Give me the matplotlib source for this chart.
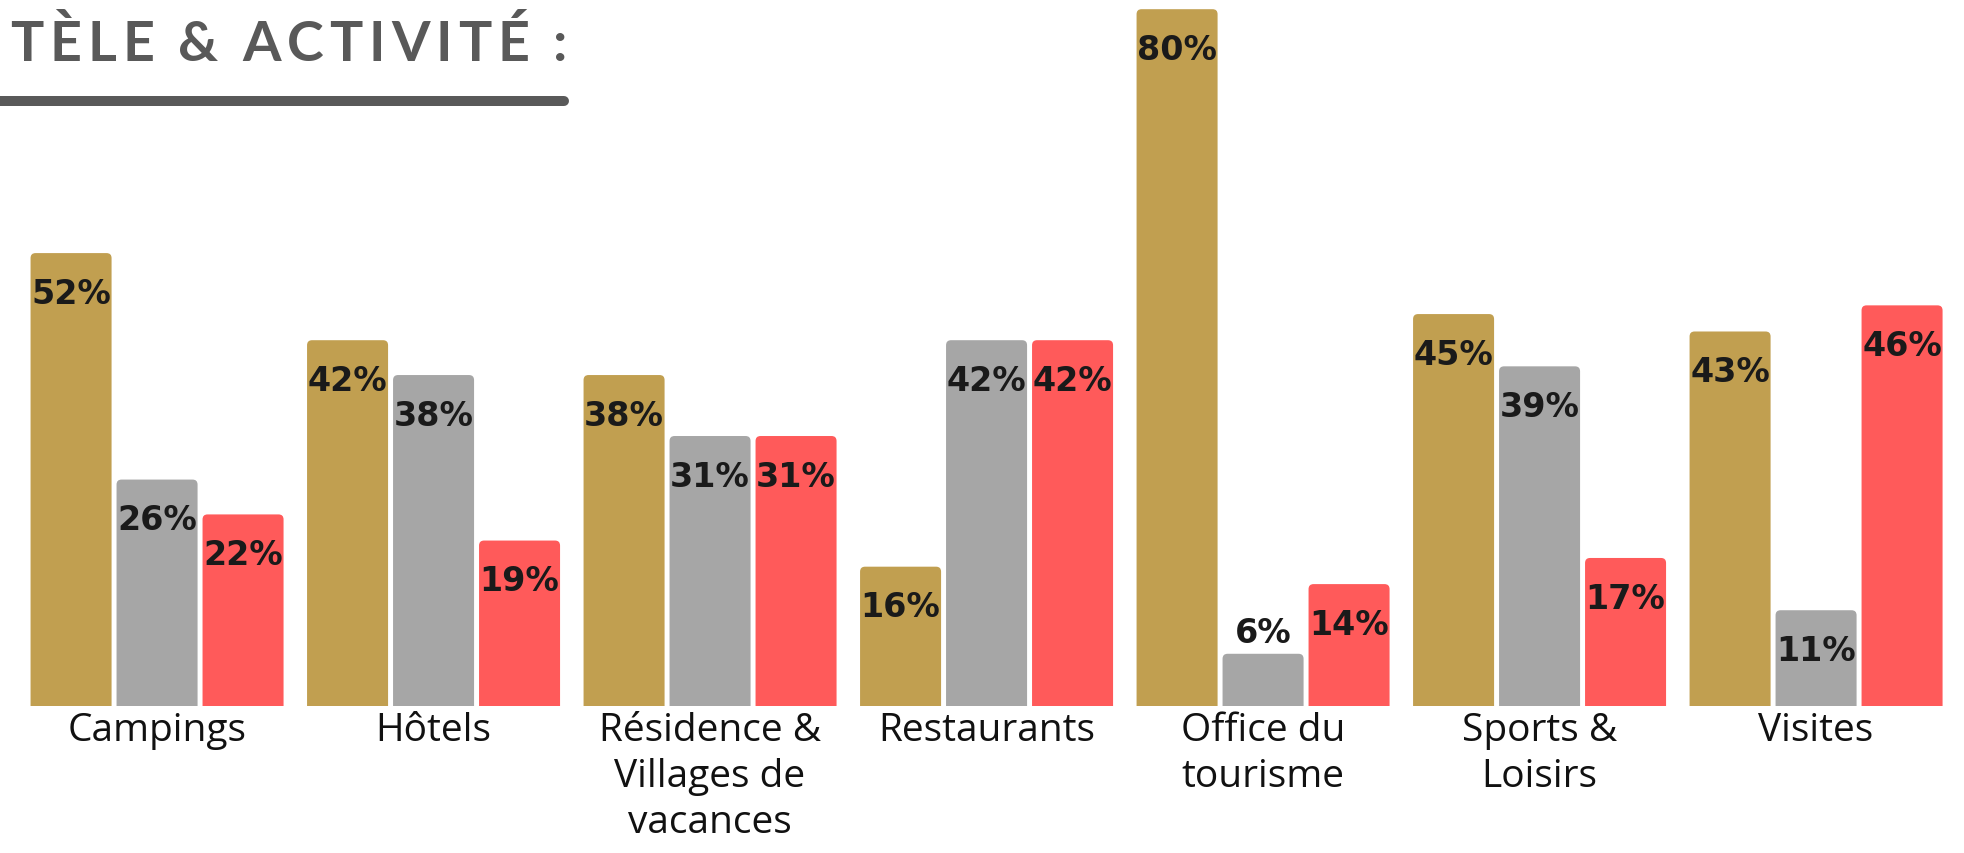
import matplotlib.pyplot as plt
from matplotlib.patches import FancyBboxPatch, Rectangle
from matplotlib.lines import Line2D
from matplotlib.transforms import IdentityTransform
from matplotlib.font_manager import FontProperties

# Données du graphique
categories = ["Campings", "Hôtels", "Résidence &\nVillages de\nvacances", "Restaurants",
              "Office du\ntourisme", "Sports &\nLoisirs", "Visites"]
serie_or = [52, 42, 38, 16, 80, 45, 43]
serie_gris = [26, 38, 31, 42, 6, 39, 11]
serie_rouge = [22, 19, 31, 42, 14, 17, 46]
couleurs = ["#C19F50", "#A6A6A6", "#FF5A5A"]
titre = "TÈLE & ACTIVITÉ :"

W, H = 1964, 854
fig = plt.figure(figsize=(W / 100, H / 100), dpi=100)
ax = fig.add_axes([0, 0, 1, 1])
ax.set_xlim(-0.568, 6.535)
ax.set_ylim(-16.87, 81.17)
ax.axis("off")

largeur = 0.293
decalage = 0.311
px_x = 276.5   # pixels par unité x
px_y = 8.71    # pixels par unité y
rayon = 5 / px_x

zone = Rectangle((-1, 0), 10, 100, transform=ax.transData)

for k, (serie, c) in enumerate(zip([serie_or, serie_gris, serie_rouge], couleurs)):
    xs = [i + (k - 1) * decalage for i in range(len(categories))]
    barres = ax.bar(xs, serie, width=largeur, color=c)
    # coins arrondis en haut
    for b in barres:
        b.set_visible(False)
        p = FancyBboxPatch((b.get_x(), -2), b.get_width(), b.get_height() + 2,
                           boxstyle=f"round,pad=0,rounding_size={rayon}",
                           mutation_aspect=px_x / px_y, facecolor=c, edgecolor="none")
        ax.add_patch(p)
        p.set_clip_path(zone)
    for x, v in zip(xs, serie):
        y = v + 2.4 if v < 10 else v - 4.6
        ax.text(x, y, f"{v}%", ha="center", va="center", fontsize=24,
                fontweight="bold", color="#1a1a1a", family="DejaVu Sans")

for i, cat in enumerate(categories):
    ax.text(i, -0.57, cat, ha="center", va="top", fontsize=28, family="Open Sans",
            color="#111111", linespacing=1.28)

# Titre avec espacement des lettres
fp = FontProperties(family="Lato", weight="bold", size=40)
renderer = fig.canvas.get_renderer()
x = 10
espacement = 6
for ch in titre:
    if ch == " ":
        x += 12 + espacement
        continue
    t = fig.text(x, H - 61, ch, fontproperties=fp, color="#595959",
                 transform=IdentityTransform(), va="baseline", ha="left")
    w = t.get_window_extent(renderer).width
    x += w + espacement

fig.add_artist(Line2D([-10, 564], [H - 102, H - 102], transform=IdentityTransform(),
                      color="#595959", linewidth=7.2, solid_capstyle="round"))

fig.savefig("out.png", dpi=100)
